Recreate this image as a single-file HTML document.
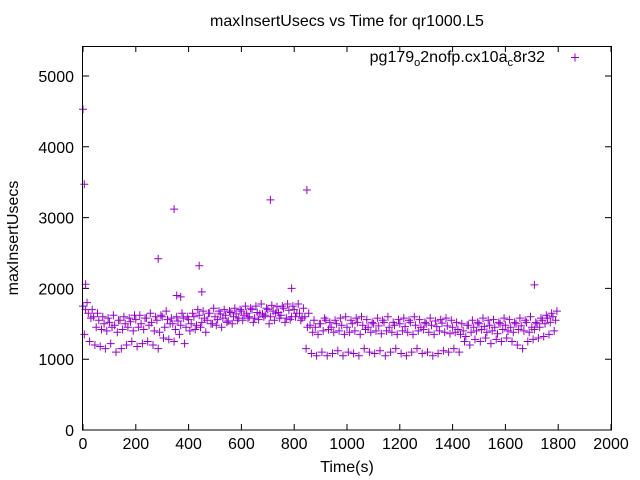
<!DOCTYPE html>
<html><head><meta charset="utf-8"><style>
body{margin:0;background:#fff}
svg{display:block;font-family:"Liberation Sans",sans-serif}
</style></head><body>
<svg id="chart" width="640" height="480" viewBox="0 0 640 480" xmlns="http://www.w3.org/2000/svg">
<rect width="640" height="480" fill="#fff"/>
<text x="347" y="26" font-size="16" text-anchor="middle">maxInsertUsecs vs Time for qr1000.L5</text>
<g id="axes"></g>
<g id="points"></g>
<text x="347" y="472" font-size="16" text-anchor="middle">Time(s)</text>
<text transform="translate(18,238) rotate(-90)" font-size="16" text-anchor="middle">maxInsertUsecs</text>
<g>
<text x="545" y="62" font-size="16" text-anchor="end">pg179<tspan font-size="11" dy="4">o</tspan><tspan dy="-4">2nofp.cx10a</tspan><tspan font-size="11" dy="4">c</tspan><tspan dy="-4">8r32</tspan></text>
<path d="M571 57.5h8M575 53.5v8" stroke="#9400d3" stroke-width="1"/>
</g>
<rect x="82.5" y="46.5" width="529" height="383.5" fill="none" stroke="#000" stroke-width="1"/>
</svg>
<script>
const xTicks=[0,200,400,600,800,1000,1200,1400,1600,1800,2000];
const yTicks=[0,1000,2000,3000,4000,5000];
const upperVals=[1750,1650,1600,1550,1500,1520,1480,1550,1500,1530,1560,1500,1580,1520,1550,1600,1560,1500,1540,1580,1560,1600,1620,1580,1650,1600,1640,1620,1660,1640,1680,1650,1700,1660,1640,1700,1680,1660,1720,1690,1700,1650,1600,1480,1450,1500,1550,1450,1500,1480,1450,1500,1520,1480,1450,1500,1470,1520,1450,1480,1500,1460,1520,1480,1450,1500,1480,1460,1510,1470,1450,1420,1400,1480,1450,1500,1460,1480,1450,1500,1480,1450,1500,1470,1520,1450,1500,1550,1580,1600];
const midVals=[1700,1580,1450,1420,1400,1450,1380,1420,1450,1400,1450,1420,1480,1400,1380,1450,1500,1420,1480,1450,1500,1480,1520,1550,1500,1560,1580,1540,1600,1580,1620,1600,1580,1640,1620,1600,1650,1620,1580,1600,1650,1580,1450,1380,1350,1400,1420,1380,1400,1350,1380,1400,1350,1420,1380,1400,1360,1400,1380,1350,1400,1380,1350,1400,1420,1380,1350,1400,1380,1360,1380,1350,1320,1380,1400,1420,1380,1400,1360,1420,1400,1380,1420,1400,1380,1420,1450,1500,1520,1550];
const lowVals=[1350,1250,1200,1180,1150,1220,1100,1150,1200,1250,1180,1220,1250,1200,1150,1300,1280,1250,1350,1220,1400,1420,1450,1380,1500,1480,1450,1520,1500,1550,1550,1580,1520,1560,1600,1500,1550,1580,1520,1560,1600,1550,1150,1080,1050,1100,1050,1080,1120,1050,1100,1080,1050,1150,1100,1080,1120,1050,1100,1150,1080,1050,1100,1150,1080,1100,1050,1080,1120,1100,1150,1100,1250,1200,1280,1250,1300,1220,1280,1250,1300,1250,1200,1150,1250,1280,1300,1320,1350,1400];
const highVals=[1800,1700,1650,1600,1580,1620,1550,1600,1580,1620,1620,1580,1650,1600,1620,1680,1580,1600,1650,1600,1650,1700,1680,1650,1720,1680,1700,1680,1720,1700,1750,1720,1750,1780,1720,1760,1740,1750,1780,1750,1780,1720,1650,1550,1500,1580,1520,1550,1580,1600,1550,1580,1600,1560,1520,1580,1550,1600,1520,1560,1580,1550,1600,1560,1520,1580,1540,1560,1580,1550,1520,1500,1480,1550,1520,1580,1550,1560,1520,1580,1560,1520,1580,1550,1600,1520,1580,1620,1650,1680];
const outlierTimes=[0,5,10,345,440,285,710,848,1710,450,790,355,370];
const outlierVals=[4530,3470,2060,3120,2320,2420,3250,3390,2050,1950,2000,1900,1880];
const X0=83,X1=611,Y0=430,Y5K=76,XMAX=2000;
function xs(t){return X0+(X1-X0)*t/XMAX;}
function ys(v){return Y0-(Y0-Y5K)*v/5000;}
const NS="http://www.w3.org/2000/svg";
const axes=document.getElementById('axes');
xTicks.forEach(t=>{
  const x=xs(t);
  const p=document.createElementNS(NS,'path');
  p.setAttribute('d',`M${x} 430v-6M${x} 46v6`);
  p.setAttribute('stroke','#000');
  
  
  axes.appendChild(p);
  const l=document.createElementNS(NS,'text');
  l.setAttribute('x',x);l.setAttribute('y',449);l.setAttribute('font-size','16');l.setAttribute('text-anchor','middle');
  
  
  l.textContent=t;axes.appendChild(l);
});
yTicks.forEach(v=>{
  const y=ys(v);
  const p=document.createElementNS(NS,'path');
  p.setAttribute('d',`M83 ${y}h6M611 ${y}h-6`);
  p.setAttribute('stroke','#000');
  
  
  axes.appendChild(p);
  const l=document.createElementNS(NS,'text');
  l.setAttribute('x',74);l.setAttribute('y',y+6);l.setAttribute('font-size','16');l.setAttribute('text-anchor','end');
  
  
  l.textContent=v;axes.appendChild(l);
});
const pts=document.getElementById('points');
let d='';
function add(t,v){const x=xs(t),y=ys(v);d+=`M${(x-4).toFixed(1)} ${y.toFixed(1)}h8M${x.toFixed(1)} ${(y-4).toFixed(1)}v8`;}
upperVals.forEach((v,i)=>add(i*20,v));
midVals.forEach((v,i)=>add(i*20+10,v));
lowVals.forEach((v,i)=>add(i*20+5,v));
highVals.forEach((v,i)=>add(i*20+15,v));
outlierVals.forEach((v,i)=>add(outlierTimes[i],v));
const path=document.createElementNS(NS,'path');
path.setAttribute('d',d);path.setAttribute('stroke','#9400d3');path.setAttribute('stroke-width','1');path.setAttribute('fill','none');


pts.appendChild(path);
</script>
</body></html>
